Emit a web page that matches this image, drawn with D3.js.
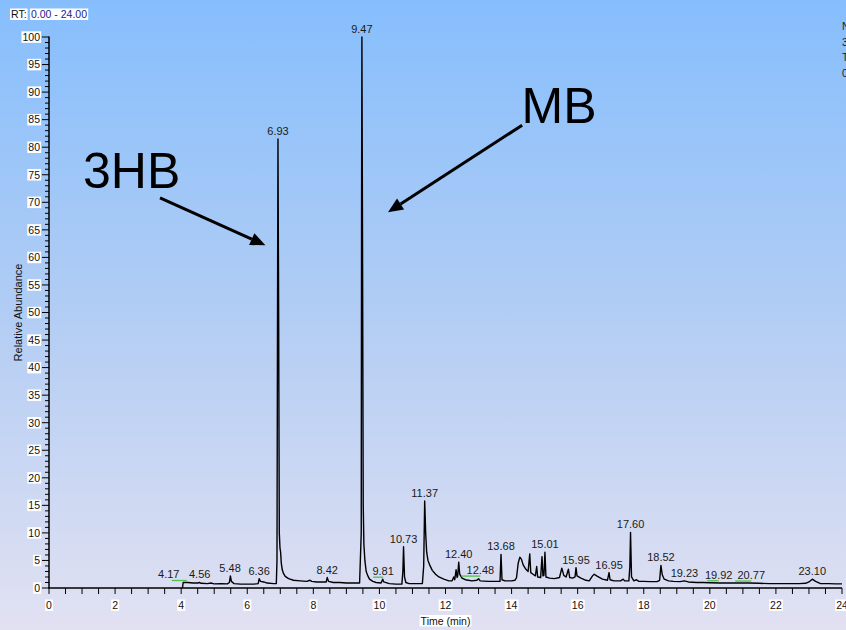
<!DOCTYPE html>
<html>
<head>
<meta charset="utf-8">
<script src="https://cdn.jsdelivr.net/npm/d3@7"></script>
<style>
  html, body { margin: 0; padding: 0; overflow: hidden; background: #fff; }
  svg { display: block; font-family: "Liberation Sans", Arial, sans-serif; }
</style>
</head>
<body>
<svg id="chart" width="846" height="630"></svg>
<script>
// Total ion chromatogram: retention time (min) and relative abundance (%)
const retentionTime = [
  4.04, 4.06, 4.20, 4.35, 4.50, 4.56, 4.60, 4.80, 4.90, 5.00, 5.20, 5.40, 5.46, 5.49, 5.52, 5.60, 5.80, 6.00, 6.20, 6.33,
  6.36, 6.40, 6.50, 6.60, 6.80, 6.88, 6.90, 6.92, 6.93, 6.95, 6.97, 6.99, 7.01, 7.03, 7.06, 7.10, 7.15, 7.25, 7.40, 7.60,
  7.80, 7.90, 7.95, 8.10, 8.30, 8.39, 8.42, 8.46, 8.60, 8.80, 9.00, 9.20, 9.40, 9.45, 9.46, 9.47, 9.49, 9.51, 9.53, 9.56,
  9.60, 9.65, 9.70, 9.80, 9.90, 10.05, 10.10, 10.13, 10.30, 10.50, 10.68, 10.71, 10.73, 10.76, 10.80, 10.90, 11.10, 11.30, 11.34, 11.37,
  11.40, 11.43, 11.47, 11.52, 11.60, 11.70, 11.80, 11.95, 12.10, 12.20, 12.25, 12.28, 12.32, 12.35, 12.37, 12.40, 12.43, 12.50, 12.60, 12.80,
  12.95, 13.00, 13.05, 13.30, 13.50, 13.65, 13.68, 13.71, 13.80, 14.00, 14.10, 14.15, 14.20, 14.25, 14.30, 14.35, 14.42, 14.50, 14.55, 14.58,
  14.65, 14.72, 14.76, 14.79, 14.88, 14.92, 14.95, 14.98, 15.01, 15.04, 15.15, 15.30, 15.45, 15.52, 15.58, 15.65, 15.72, 15.76, 15.85, 15.92,
  15.95, 15.98, 16.10, 16.25, 16.35, 16.45, 16.50, 16.60, 16.75, 16.90, 16.95, 16.98, 17.10, 17.30, 17.38, 17.42, 17.55, 17.58, 17.60, 17.63,
  17.70, 17.78, 17.85, 18.00, 18.20, 18.40, 18.48, 18.52, 18.56, 18.62, 18.75, 18.90, 19.10, 19.23, 19.35, 19.60, 19.80, 20.00, 20.30, 20.60,
  20.90, 21.20, 21.50, 21.80, 22.10, 22.40, 22.70, 22.90, 23.00, 23.10, 23.20, 23.35, 23.60, 23.80, 24.00
];
const relAbundance = [
  0.0, 1.0, 1.0, 0.9, 0.9, 1.0, 0.85, 0.8, 0.9, 0.75, 0.8, 0.75, 1.0, 2.2, 1.2, 0.8, 0.7, 0.7, 0.7, 0.8,
  1.7, 1.2, 1.1, 0.9, 0.8, 0.8, 5.0, 60.0, 81.5, 50.0, 10.0, 7.3, 6.5, 4.5, 3.3, 2.6, 2.1, 1.7, 1.4, 1.3,
  1.2, 1.4, 1.2, 1.1, 1.1, 1.1, 1.9, 1.2, 1.0, 1.0, 0.9, 0.9, 0.9, 10.0, 70.0, 100.0, 60.0, 15.0, 8.0, 5.0,
  3.0, 2.2, 1.6, 1.2, 1.0, 0.9, 1.6, 1.1, 0.8, 0.7, 0.7, 3.0, 7.5, 2.0, 1.0, 0.8, 0.8, 0.8, 4.0, 15.8,
  10.0, 6.5, 5.0, 4.2, 3.2, 2.5, 2.0, 1.6, 1.3, 1.3, 2.0, 1.5, 3.3, 1.9, 2.2, 4.7, 2.5, 1.8, 1.5, 1.3,
  1.4, 1.7, 1.3, 1.2, 1.2, 1.2, 6.1, 1.5, 1.3, 1.3, 1.4, 1.9, 4.5, 5.6, 5.2, 4.2, 3.5, 3.0, 6.2, 2.8,
  2.5, 2.2, 3.9, 2.0, 1.9, 5.7, 2.2, 2.3, 6.5, 2.0, 1.8, 1.7, 1.9, 3.6, 2.3, 2.0, 3.4, 1.9, 1.8, 2.0,
  3.7, 2.2, 1.8, 1.4, 1.3, 2.2, 2.5, 2.1, 1.6, 1.4, 2.8, 1.5, 1.3, 1.3, 1.6, 1.3, 1.3, 4.0, 10.1, 2.0,
  1.3, 1.5, 1.2, 1.2, 1.15, 1.15, 1.4, 4.1, 2.4, 1.6, 1.3, 1.2, 1.15, 1.3, 1.1, 1.0, 1.0, 0.95, 0.9, 0.9,
  0.9, 0.9, 0.85, 0.8, 0.8, 0.8, 0.8, 0.85, 1.1, 1.6, 1.2, 0.8, 0.8, 0.75, 0.75
];

// Retention-time labels printed above the peaks
const peakLabels = ["4.17", "4.56", "5.48", "6.36", "6.93", "8.42", "9.47", "9.81", "10.73", "11.37",
  "12.40", "12.48", "13.68", "15.01", "15.95", "16.95", "17.60", "18.52", "19.23", "19.92", "20.77", "23.10"];

// Axis ticks
const xTickLabels = ["0", "2", "4", "6", "8", "10", "12", "14", "16", "18", "20", "22", "24"];
const yTickLabels = ["0", "5", "10", "15", "20", "25", "30", "35", "40", "45", "50", "55", "60", "65", "70", "75", "80", "85", "90", "95", "100"];

// Compound annotations (text position and arrow, in minutes / % abundance)
const compoundNames = ["3HB", "MB"];
const compoundTextAt = [[1.03, 72.6], [14.3, 84.4]];
const arrowTail = [[3.36, 70.8], [14.32, 84.0]];
const arrowHead = [[6.55, 62.2], [10.26, 68.2]];

// Instrument header, cut by the right edge of the page
const headerLines = ["NL:", "3.29E9", "TIC MS", "0_data"];

// ---- layout ----
const W = 846, H = 630;
const svg = d3.select("#chart");
const x = d3.scaleLinear().domain([0, 24]).range([49, 842]);
const y = d3.scaleLinear().domain([0, 100]).range([588, 37]);

// background wash
const defs = svg.append("defs");
const grad = defs.append("linearGradient").attr("id", "bg").attr("x1", 0).attr("y1", 0).attr("x2", 0).attr("y2", 1);
grad.append("stop").attr("offset", "0%").attr("stop-color", "#86befd");
grad.append("stop").attr("offset", "50%").attr("stop-color", "#b2cdf4");
grad.append("stop").attr("offset", "100%").attr("stop-color", "#e2e1f2");
svg.append("rect").attr("width", W).attr("height", H).attr("fill", "url(#bg)");

// text with a white box behind it
function boxedText(g, str, px, py, anchor, size, color) {
  const grp = g.append("g");
  const r = grp.append("rect").attr("fill", "#fff");
  const t = grp.append("text").attr("x", px).attr("y", py).attr("text-anchor", anchor)
    .attr("font-size", size).attr("fill", color || "#111").text(str);
  const b = t.node().getBBox();
  r.attr("x", b.x - 1).attr("y", b.y + 0.5).attr("width", b.width + 2).attr("height", b.height - 0.5);
  return grp;
}

// RT range
const headerGroup = svg.append("g");
boxedText(headerGroup, "RT:", 11, 18, "start", 10.5, "#111");
boxedText(headerGroup, "0.00 - 24.00", 31, 18, "start", 10.5, "#1d1d8a");

// header lines on the right
headerLines.forEach((s, i) => {
  svg.append("text").attr("x", 842).attr("y", 30 + i * 15.7).attr("font-size", 10.5).attr("fill", "#222").text(s);
});

// ---- axes ----
const axes = svg.append("g").attr("stroke", "#000");
// y minor / major ticks
d3.range(0, 101, 1).forEach(v => {
  const major = v % 5 === 0;
  axes.append("line").attr("x1", x(0) - (major ? 7 : 4)).attr("x2", x(0))
    .attr("y1", y(v)).attr("y2", y(v)).attr("stroke-width", 1);
});
// x ticks every half minute
d3.range(0, 24.001, 0.5).forEach(t => {
  axes.append("line").attr("x1", x(t)).attr("x2", x(t))
    .attr("y1", y(0)).attr("y2", y(0) + 6).attr("stroke-width", 1);
});
axes.append("line").attr("x1", x(0)).attr("x2", x(0)).attr("y1", y(0) + 0.5).attr("y2", y(100) - 0.5).attr("stroke-width", 1.5);
axes.append("line").attr("x1", x(0) - 0.5).attr("x2", x(24)).attr("y1", y(0)).attr("y2", y(0)).attr("stroke-width", 1.5);

const tickText = svg.append("g");
yTickLabels.forEach(s => boxedText(tickText, s, 40, y(+s) + 3.8, "end", 10.5));
xTickLabels.forEach(s => boxedText(tickText, s, x(+s), 609, "middle", 10.5));
boxedText(tickText, "Time (min)", x(12), 624.5, "middle", 10.5);
svg.append("text").attr("transform", `translate(22,${y(50)}) rotate(-90)`)
  .attr("text-anchor", "middle").attr("font-size", 11).attr("fill", "#111").text("Relative Abundance");

// ---- chromatogram trace ----
const trace = retentionTime.map((t, i) => ({ t, v: relAbundance[i] }));
const line = d3.line().x(d => x(d.t)).y(d => y(d.v));
svg.append("path").datum(trace).attr("d", line)
  .attr("fill", "none").attr("stroke", "#000").attr("stroke-width", 1.4).attr("stroke-linejoin", "round");

// ---- peak labels ----
const labelNudge = { "4.17": -18, "9.81": 10, "12.48": 19, "19.92": 11.5, "20.77": 16 };
const lbls = svg.append("g");
peakLabels.forEach(s => {
  const t = +s;
  const xt = x(t);
  const cx = xt + (labelNudge[s] || 0);
  const lo = x.invert(Math.min(xt, cx - 11)), hi = x.invert(Math.max(xt, cx + 11));
  let m = 0;
  trace.forEach(p => { if (p.t >= lo && p.t <= hi) m = Math.max(m, p.v); });
  const base = y(m) - 4;
  if (labelNudge[s]) {
    lbls.append("line").attr("x1", xt).attr("x2", cx + (labelNudge[s] < 0 ? 3 : 0))
      .attr("y1", base + 2).attr("y2", base + 2).attr("stroke", "#4cc34c").attr("stroke-width", 1.3);
  }
  lbls.append("text").attr("x", cx).attr("y", base).attr("text-anchor", "middle")
    .attr("font-size", 11).attr("fill", "#1a1a1a").text(s);
});

// ---- compound annotations ----
const ann = svg.append("g");
compoundNames.forEach((name, i) => {
  ann.append("text").attr("x", x(compoundTextAt[i][0])).attr("y", y(compoundTextAt[i][1]))
    .attr("font-size", 50).attr("fill", "#000").text(name);
  const x1 = x(arrowTail[i][0]), y1 = y(arrowTail[i][1]);
  const x2 = x(arrowHead[i][0]), y2 = y(arrowHead[i][1]);
  const ang = Math.atan2(y2 - y1, x2 - x1);
  const L = 15, Wd = 6.5;
  const bx = x2 - L * Math.cos(ang), by = y2 - L * Math.sin(ang);
  ann.append("line").attr("x1", x1).attr("y1", y1).attr("x2", bx).attr("y2", by)
    .attr("stroke", "#000").attr("stroke-width", 3);
  const pts = [[x2, y2],
    [bx + Wd * Math.sin(ang), by - Wd * Math.cos(ang)],
    [bx - Wd * Math.sin(ang), by + Wd * Math.cos(ang)]];
  ann.append("polygon").attr("points", pts.map(p => p.join(",")).join(" ")).attr("fill", "#000");
});
</script>
</body>
</html>
